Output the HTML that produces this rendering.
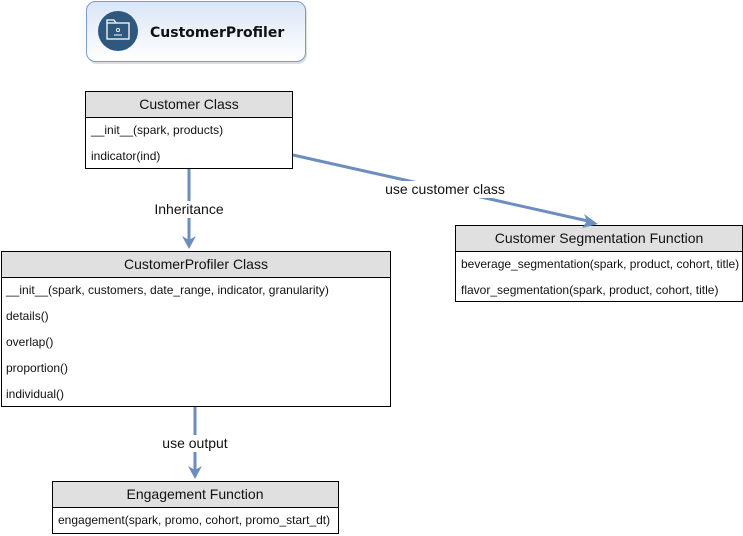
<!DOCTYPE html>
<html><head><meta charset="utf-8"><style>
html,body{margin:0;padding:0;background:#fff;}
svg{display:block;}
text{font-family:"Liberation Sans",Arial,sans-serif;font-size:12px;fill:#111;}
text.h{font-size:14px;}
text.l{font-size:14px;}
</style></head><body>
<svg width="743" height="536" viewBox="0 0 743 536" xmlns="http://www.w3.org/2000/svg">
<defs>
<linearGradient id="g" x1="0" y1="0" x2="0" y2="1">
<stop offset="0" stop-color="#dae5f7"/><stop offset="1" stop-color="#ffffff"/>
</linearGradient>
</defs>
<rect x="88" y="3" width="219" height="61" rx="9" fill="#c8c8c8" opacity="0.6"/>
<rect x="86.5" y="1.5" width="219" height="60" rx="9" fill="url(#g)" stroke="#7a9bcb" stroke-width="1"/>
<circle cx="118" cy="31" r="20" fill="#2e587e"/>
<rect x="107" y="23" width="22" height="16" fill="none" stroke="#fff" stroke-width="1.3"/>
<path d="M107 23 L107 20 L114 20 L116 23" fill="none" stroke="#fff" stroke-width="1.3"/>
<circle cx="118" cy="30" r="1.6" fill="none" stroke="#fff" stroke-width="0.9"/>
<line x1="114" y1="35" x2="122" y2="35" stroke="#fff" stroke-width="1"/>
<text x="150" y="37" style="font-weight:bold;font-size:14px;font-family:'DejaVu Sans','Liberation Sans',sans-serif">CustomerProfiler</text>

<rect x="85.5" y="91.5" width="207" height="77" fill="#fff" stroke="#000"/>
<rect x="85.5" y="91.5" width="207" height="26" fill="#e0e0e0" stroke="#000"/>
<text class="h" x="189" y="109" text-anchor="middle">Customer Class</text>
<text x="91" y="134">__init__(spark, products)</text>
<text x="91" y="160">indicator(ind)</text>

<rect x="1.5" y="251.5" width="389" height="155" fill="#fff" stroke="#000"/>
<rect x="1.5" y="251.5" width="389" height="26" fill="#e0e0e0" stroke="#000"/>
<text class="h" x="196" y="269" text-anchor="middle">CustomerProfiler Class</text>
<text x="6" y="294">__init__(spark, customers, date_range, indicator, granularity)</text>
<text x="6" y="320">details()</text>
<text x="6" y="346">overlap()</text>
<text x="6" y="372">proportion()</text>
<text x="6" y="398">individual()</text>

<rect x="52.5" y="481.5" width="286" height="52" fill="#fff" stroke="#000"/>
<rect x="52.5" y="481.5" width="286" height="26" fill="#e0e0e0" stroke="#000"/>
<text class="h" x="195" y="499" text-anchor="middle">Engagement Function</text>
<text x="58" y="524">engagement(spark, promo, cohort, promo_start_dt)</text>

<rect x="455.5" y="225.5" width="287" height="76" fill="#fff" stroke="#000"/>
<rect x="455.5" y="225.5" width="287" height="26" fill="#e0e0e0" stroke="#000"/>
<text class="h" x="599" y="243" text-anchor="middle">Customer Segmentation Function</text>
<text x="461" y="268">beverage_segmentation(spark, product, cohort, title)</text>
<text x="461" y="294">flavor_segmentation(spark, product, cohort, title)</text>

<g stroke="#6c8ebf" stroke-width="3" fill="none">
<line x1="189" y1="169" x2="189" y2="240"/>
<line x1="195" y1="407" x2="195" y2="470"/>
<line x1="293" y1="155" x2="588" y2="221"/>
</g>
<g fill="#6c8ebf">
<polygon points="182,236 189,249 196,236 189,240"/>
<polygon points="188,466 195,479 202,466 195,470"/>
<polygon points="584,214 598,224 582,228 587,221"/>
</g>
<rect x="150" y="201" width="78" height="17" fill="#fff"/>
<text class="l" x="189" y="214" text-anchor="middle">Inheritance</text>
<rect x="158" y="435" width="74" height="17" fill="#fff"/>
<text class="l" x="195" y="448" text-anchor="middle">use output</text>
<rect x="382" y="181" width="126" height="17" fill="#fff"/>
<text class="l" x="445" y="194" text-anchor="middle">use customer class</text>
</svg>
</body></html>
